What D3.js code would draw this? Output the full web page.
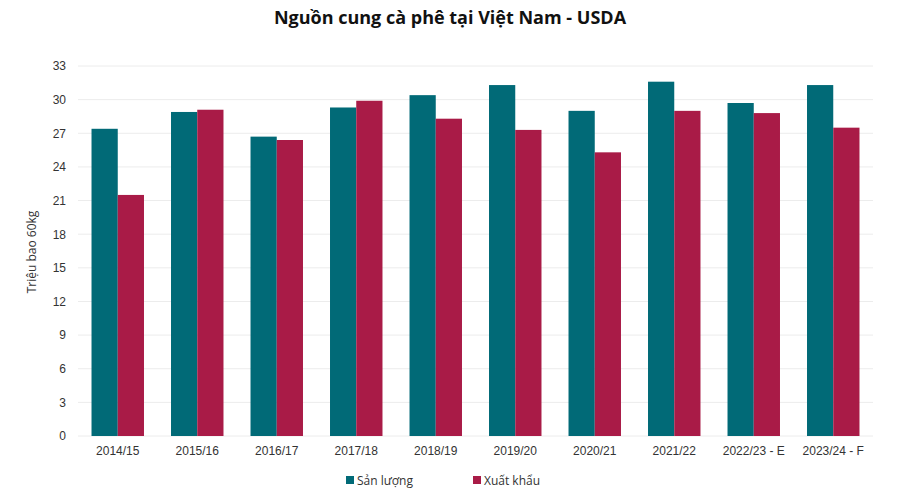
<!DOCTYPE html>
<html>
<head>
<meta charset="utf-8">
<script src="https://cdn.jsdelivr.net/npm/d3@7"></script>
<style>
  body { margin: 0; background: #fff; }
  svg { font-family: 'Open Sans', sans-serif; }
</style>
</head>
<body>
<svg></svg>
<script>
const seasons = ['2014/15', '2015/16', '2016/17', '2017/18', '2018/19', '2019/20', '2020/21', '2021/22', '2022/23 - E', '2023/24 - F'];
const production = [27.4, 28.9, 26.7, 29.3, 30.4, 31.3, 29.0, 31.6, 29.7, 31.3];
const exports = [21.5, 29.1, 26.4, 29.9, 28.3, 27.3, 25.3, 29.0, 28.8, 27.5];
const seriesNames = ['Sản lượng', 'Xuất khẩu'];
const yTicks = [0, 3, 6, 9, 12, 15, 18, 21, 24, 27, 30, 33];

const size = {w: 900, h: 500};
const margin = {t: 66, r: 27, b: 64, l: 78};
const colors = ['#016a77', '#a91b47'];

const svg = d3.select('svg')
    .attr('width', size.w)
    .attr('height', size.h);

const x = d3.scaleBand()
    .domain(seasons)
    .range([margin.l, size.w - margin.r])
    .paddingInner(0.34)
    .paddingOuter(0.17);

const xSub = d3.scaleBand()
    .domain(seriesNames)
    .range([0, x.bandwidth()]);

const y = d3.scaleLinear()
    .domain([0, 33])
    .range([size.h - margin.b, margin.t]);

// gridlines
svg.append('g')
    .selectAll('line')
    .data(yTicks)
    .enter()
    .append('line')
    .attr('x1', margin.l)
    .attr('x2', size.w - margin.r)
    .attr('y1', d => y(d))
    .attr('y2', d => y(d))
    .attr('stroke', '#ececec')
    .attr('stroke-width', 1);

// y axis labels
const yAxis = svg.append('g')
    .attr('transform', 'translate(' + (margin.l - 8) + ',0)')
    .call(d3.axisLeft(y).tickValues(yTicks).tickSize(0).tickPadding(4));
yAxis.select('.domain').remove();
yAxis.selectAll('text')
    .attr('fill', '#333')
    .style('font-size', '12px');

// x axis labels
const xAxis = svg.append('g')
    .attr('transform', 'translate(0,' + (size.h - margin.b) + ')')
    .call(d3.axisBottom(x).tickSize(0).tickPadding(10));
xAxis.select('.domain').remove();
xAxis.selectAll('text')
    .attr('fill', '#333')
    .style('font-size', '12px');

// bars
const rows = seasons.map((s, i) => ({season: s, values: [production[i], exports[i]]}));

const groups = svg.append('g')
    .selectAll('g')
    .data(rows)
    .enter()
    .append('g')
    .attr('transform', d => 'translate(' + x(d.season) + ',0)');

groups.selectAll('rect')
    .data(d => d.values.map((v, k) => ({name: seriesNames[k], value: v, k: k})))
    .enter()
    .append('rect')
    .attr('x', d => xSub(d.name))
    .attr('width', xSub.bandwidth())
    .attr('y', d => y(d.value))
    .attr('height', d => y(0) - y(d.value))
    .attr('fill', d => colors[d.k]);

// title
svg.append('text')
    .attr('x', 450)
    .attr('y', 24)
    .attr('text-anchor', 'middle')
    .style('font-size', '18px')
    .style('font-weight', 'bold')
    .attr('fill', '#111')
    .text('Nguồn cung cà phê tại Việt Nam - USDA');

// y axis title
svg.append('text')
    .attr('transform', 'translate(36,252) rotate(-90)')
    .attr('text-anchor', 'middle')
    .style('font-size', '12px')
    .attr('fill', '#333')
    .text('Triệu bao 60kg');

// legend
const legendX = [346, 473];
const legend = svg.append('g')
    .selectAll('g')
    .data(seriesNames)
    .enter()
    .append('g')
    .attr('transform', (d, i) => 'translate(' + legendX[i] + ',476)');
legend.append('rect')
    .attr('width', 8)
    .attr('height', 8)
    .attr('fill', (d, i) => colors[i]);
legend.append('text')
    .attr('x', 11)
    .attr('y', 8.5)
    .style('font-size', '12px')
    .attr('fill', '#333')
    .text(d => d);
</script>
</body>
</html>
